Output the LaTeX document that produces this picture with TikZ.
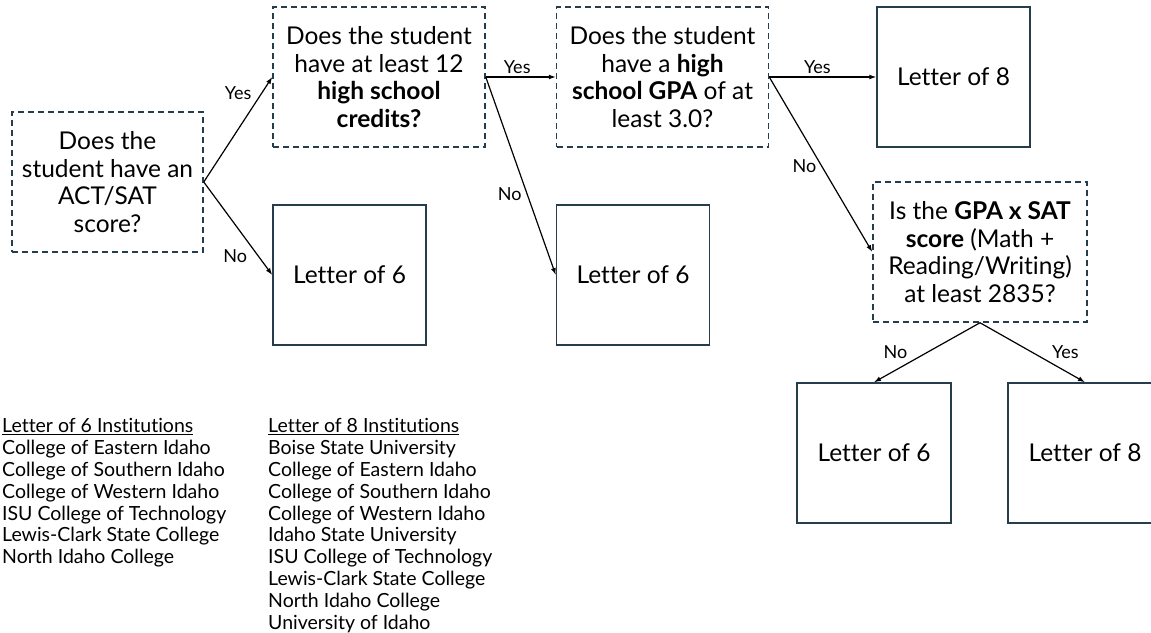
\documentclass[tikz,border=0pt]{standalone}
\usepackage{fontspec}
\setmainfont{Lato}[Ligatures=NoCommon]
\usetikzlibrary{positioning,arrows.meta}
\definecolor{boxline}{RGB}{38,61,77}
\newcommand{\boxfont}{\fontsize{24.5}{27.7}\selectfont}
\newcommand{\ansfont}{\fontsize{18}{20}\selectfont}
\newcommand{\listfont}{\fontsize{19.5}{21.9}\selectfont}
\begin{document}
\begin{tikzpicture}[x=1pt, y=-1pt, >={Latex[length=7pt,width=5pt]},
  question/.style = {draw=boxline, line width=1.5pt, dash pattern=on 6pt off 4pt, minimum height=140pt, align=center, font=\boxfont, inner sep=0pt},
  letter/.style = {draw=boxline, line width=1.5pt, minimum width=153pt, minimum height=140pt, font=\boxfont, inner sep=0pt},
  answer/.style = {font=\ansfont, inner sep=2pt},
  list/.style = {font=\listfont, align=left, inner sep=0pt, anchor=north west}]
\useasboundingbox (0,0) rectangle (1151,632);
\node[question, minimum width=191pt] (act) at (107.5,182) {Does the\\student have an\\ACT/SAT\\score?};
\node[question, minimum width=212pt] (credits) at (379,77) {Does the student\\have at least 12\\\textbf{high school}\\\textbf{credits?}};
\node[letter] (six1) at (349.5,275) {Letter of 6};
\node[question, minimum width=212pt] (gpa) [right=70pt of credits] {Does the student\\have a \textbf{high}\\\textbf{school GPA} of at\\least 3.0?};
\node[letter] (six2) [right=129pt of six1] {Letter of 6};
\node[letter] (eight1) [right=107pt of gpa] {Letter of 8};
\node[question, minimum width=214pt] (sat) at (980,252) {Is the \textbf{GPA x SAT}\\\textbf{score} (Math +\\Reading/Writing)\\at least 2835?};
\node[letter, minimum width=154pt] (six3) at (874,453) {Letter of 6};
\node[letter, minimum width=154pt] (eight2) at (1085,453) {Letter of 8};
\draw[->, line width=1.2pt] (act.east) -- node[answer, pos=.85, left=8pt] {Yes} (credits.west);
\draw[->, line width=1.2pt] (act.east) -- node[answer, pos=.8, left=9pt] {No} (six1.west);
\draw[->, line width=1.2pt] (credits.east) -- node[answer, pos=.45, above=1pt] {Yes} (gpa.west);
\draw[->, line width=1.2pt] (credits.east) -- node[answer, pos=.59, left=3pt] {No} (six2.west);
\draw[->, line width=1.2pt] (gpa.east) -- node[answer, pos=.45, above=1pt] {Yes} (eight1.west);
\draw[->, line width=1.2pt] (gpa.east) -- node[answer, pos=.51, left=3pt] {No} (sat.west);
\draw[->, line width=1.2pt] (sat.south) -- node[answer, pos=.5, left=17pt] {No} (six3.north);
\draw[->, line width=1.2pt] (sat.south) -- node[answer, pos=.5, right=17pt] {Yes} (eight2.north);
\node[list] (list6) at (2,418) {\underline{Letter of 6 Institutions}\\College of Eastern Idaho\\College of Southern Idaho\\College of Western Idaho\\ISU College of Technology\\Lewis-Clark State College\\North Idaho College};
\node[list] (list8) at (268,418) {\underline{Letter of 8 Institutions}\\Boise State University\\College of Eastern Idaho\\College of Southern Idaho\\College of Western Idaho\\Idaho State University\\ISU College of Technology\\Lewis-Clark State College\\North Idaho College\\University of Idaho};
\end{tikzpicture}
\end{document}
